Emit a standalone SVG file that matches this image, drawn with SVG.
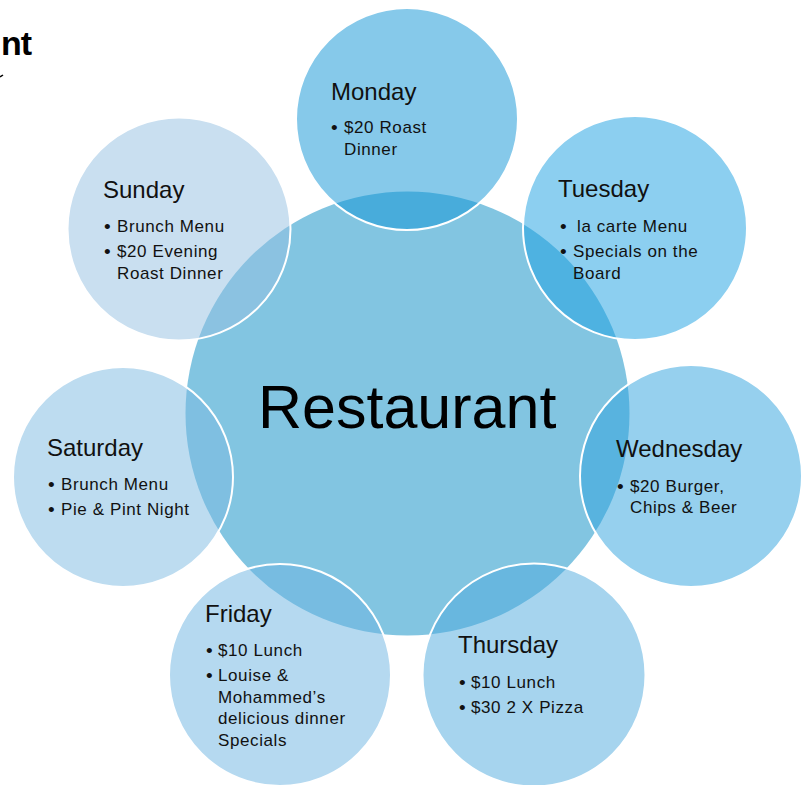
<svg xmlns="http://www.w3.org/2000/svg" width="808" height="785" viewBox="0 0 808 785">
<style>
  .day { fill-opacity: 0.5; stroke: #ffffff; stroke-width: 2; }
  .title { font-family: "Liberation Sans", Arial, sans-serif; font-size: 24px; fill: #111111; }
  .item { font-family: "Liberation Sans", Arial, sans-serif; font-size: 17px; fill: #111111; letter-spacing: 0.6px; }
  .bul { font-family: "Liberation Sans", Arial, sans-serif; font-size: 19px; fill: #111111; }
</style>
<rect x="0" y="0" width="808" height="785" fill="#ffffff"/>

<g id="header">
  <text x="1" y="55" font-family="Liberation Sans, Arial, sans-serif" font-size="34" font-weight="bold" letter-spacing="-1" fill="#000000">nt</text>
  <path d="M0 77 L3 75" stroke="#000000" stroke-width="1.5"/>
</g>

<g id="restaurant">
  <circle cx="407.5" cy="413.5" r="222" fill="#82C5E1"/>
  <text x="258" y="428" font-family="Liberation Sans, Arial, sans-serif" font-size="61" fill="#000000">Restaurant</text>
</g>

<g id="connectors"></g>

<g id="monday">
  <circle class="day" cx="407" cy="119" r="111" fill="#0D93D5"/>
  <text class="title" x="331" y="100">Monday</text>
  <text class="bul" x="331" y="134">•</text>
  <text class="item" x="344" y="133">$20 Roast</text>
  <text class="item" x="344" y="155">Dinner</text>
</g>

<g id="tuesday">
  <circle class="day" cx="635" cy="228" r="112" fill="#199FE1"/>
  <text class="title" x="558" y="197">Tuesday</text>
  <text class="bul" x="560" y="233">•</text>
  <text class="item" x="577" y="232">la carte Menu</text>
  <text class="bul" x="560" y="258">•</text>
  <text class="item" x="573" y="257">Specials on the</text>
  <text class="item" x="573" y="279">Board</text>
</g>

<g id="wednesday">
  <circle class="day" cx="691" cy="476" r="111" fill="#2DA1DD"/>
  <text class="title" x="616" y="457">Wednesday</text>
  <text class="bul" x="617" y="493">•</text>
  <text class="item" x="630" y="492">$20 Burger,</text>
  <text class="item" x="630" y="513">Chips &amp; Beer</text>
</g>

<g id="thursday">
  <circle class="day" cx="534" cy="675" r="111.5" fill="#4DA9DD"/>
  <text class="title" x="458" y="653">Thursday</text>
  <text class="bul" x="459" y="689">•</text>
  <text class="item" x="471" y="688">$10 Lunch</text>
  <text class="bul" x="459" y="714">•</text>
  <text class="item" x="471" y="713">$30 2 X Pizza</text>
</g>

<g id="friday">
  <circle class="day" cx="280" cy="675" r="111" fill="#6BB3E1"/>
  <text class="title" x="205" y="622">Friday</text>
  <text class="bul" x="206" y="657">•</text>
  <text class="item" x="218" y="656">$10 Lunch</text>
  <text class="bul" x="206" y="682">•</text>
  <text class="item" x="218" y="681">Louise &amp;</text>
  <text class="item" x="218" y="703">Mohammed’s</text>
  <text class="item" x="218" y="724">delicious dinner</text>
  <text class="item" x="218" y="746">Specials</text>
</g>

<g id="saturday">
  <circle class="day" cx="123" cy="477" r="110" fill="#7BB9E1"/>
  <text class="title" x="47" y="456">Saturday</text>
  <text class="bul" x="48" y="491">•</text>
  <text class="item" x="61" y="490">Brunch Menu</text>
  <text class="bul" x="48" y="516">•</text>
  <text class="item" x="61" y="515">Pie &amp; Pint Night</text>
</g>

<g id="sunday">
  <circle class="day" cx="179" cy="229" r="111.5" fill="#93BFE1"/>
  <text class="title" x="103" y="198">Sunday</text>
  <text class="bul" x="104" y="233">•</text>
  <text class="item" x="117" y="232">Brunch Menu</text>
  <text class="bul" x="104" y="258">•</text>
  <text class="item" x="117" y="257">$20 Evening</text>
  <text class="item" x="117" y="279">Roast Dinner</text>
</g>
</svg>
